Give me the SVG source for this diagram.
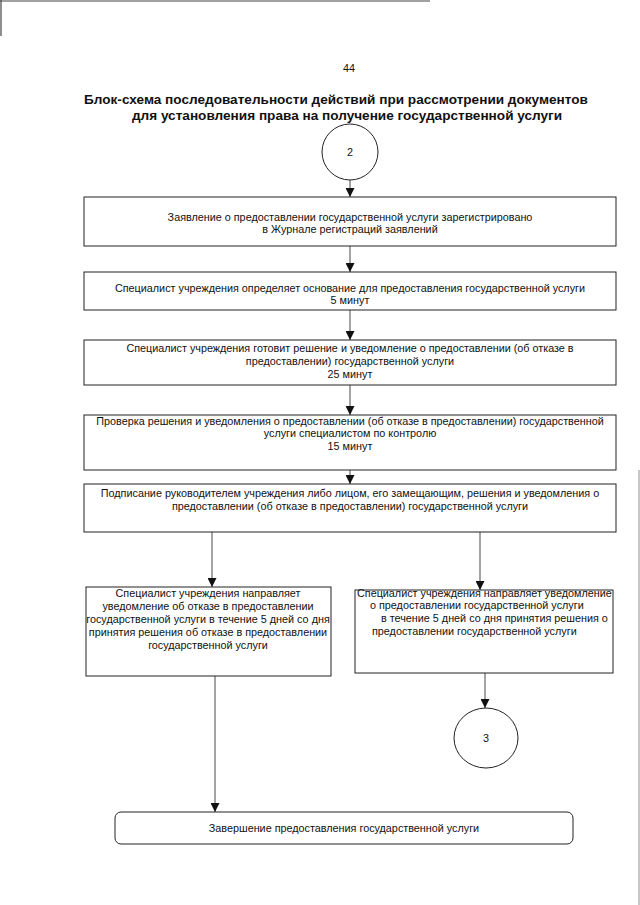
<svg xmlns="http://www.w3.org/2000/svg" width="640" height="905" viewBox="0 0 640 905">
<defs>
<style>
.t{font-family:"Liberation Sans",Arial,sans-serif;font-size:10.8px;fill:#111;text-anchor:middle}
.s{text-anchor:start}
.h{font-family:"Liberation Sans",Arial,sans-serif;font-size:13.6px;font-weight:bold;fill:#111;text-anchor:middle}
.b{fill:#fff;stroke:#222;stroke-width:1}
.c{fill:none;stroke:#333;stroke-width:0.9}
.scan{stroke:#444;stroke-width:1.2;fill:none}
</style>
<marker id="ah" viewBox="0 0 10 10" refX="10" refY="5" markerWidth="9" markerHeight="9" markerUnits="userSpaceOnUse" orient="auto">
<path d="M0,0 L10,5 L0,10 z" fill="#111"/>
</marker>
</defs>
<rect width="640" height="905" fill="#fff"/>
<line class="scan" x1="0" y1="1" x2="430" y2="1"/>
<line class="scan" x1="1" y1="0" x2="1" y2="36"/>
<line class="scan" x1="639" y1="470" x2="639" y2="905" stroke-opacity="0.5"/>

<text class="t" x="349" y="72" font-size="11">44</text>
<text class="h" x="336" y="104">Блок-схема последовательности действий при рассмотрении документов</text>
<text class="h" x="347" y="120">для установления права на получение государственной услуги</text>

<g id="connectors">
<line class="c" x1="350" y1="180" x2="350" y2="197" marker-end="url(#ah)"/>
<line class="c" x1="350" y1="246" x2="350" y2="272" marker-end="url(#ah)"/>
<line class="c" x1="350" y1="310" x2="350" y2="340" marker-end="url(#ah)"/>
<line class="c" x1="350" y1="385" x2="350" y2="415" marker-end="url(#ah)"/>
<line class="c" x1="350" y1="470" x2="350" y2="484" marker-end="url(#ah)"/>
<line class="c" x1="212" y1="532" x2="212" y2="587" marker-end="url(#ah)"/>
<line class="c" x1="480" y1="532" x2="480" y2="590" marker-end="url(#ah)"/>
<line class="c" x1="485" y1="673" x2="485" y2="708" marker-end="url(#ah)"/>
<line class="c" x1="215" y1="676" x2="215" y2="812" marker-end="url(#ah)"/>
</g>

<g id="start2">
<circle class="b" cx="350" cy="152" r="28" stroke-width="0.8"/>
<text class="t" x="350" y="156">2</text>
</g>

<g id="box1">
<rect class="b" x="84" y="197" width="532" height="49"/>
<text class="t" x="350" y="221">Заявление о предоставлении государственной услуги зарегистрировано</text>
<text class="t" x="350" y="233">в Журнале регистраций заявлений</text>
</g>

<g id="box2">
<rect class="b" x="84" y="272" width="532" height="38"/>
<text class="t" x="350" y="292">Специалист учреждения определяет основание для предоставления государственной услуги</text>
<text class="t" x="350" y="304">5 минут</text>
</g>

<g id="box3">
<rect class="b" x="84" y="340" width="532" height="45"/>
<text class="t" x="350" y="352">Специалист учреждения готовит решение и уведомление о предоставлении (об отказе в</text>
<text class="t" x="350" y="365">предоставлении) государственной услуги</text>
<text class="t" x="350" y="378">25 минут</text>
</g>

<g id="box4">
<rect class="b" x="84" y="415" width="532" height="55"/>
<text class="t" x="350" y="425">Проверка решения и уведомления о предоставлении (об отказе в предоставлении) государственной</text>
<text class="t" x="350" y="437">услуги специалистом по контролю</text>
<text class="t" x="350" y="450">15 минут</text>
</g>

<g id="box5">
<rect class="b" x="84" y="484" width="532" height="48"/>
<text class="t" x="350" y="497">Подписание руководителем учреждения либо лицом, его замещающим, решения и уведомления о</text>
<text class="t" x="350" y="510">предоставлении (об отказе в предоставлении) государственной услуги</text>
</g>

<g id="box6">
<rect class="b" x="86" y="587" width="245" height="89"/>
<text class="t" x="208" y="597">Специалист учреждения направляет</text>
<text class="t" x="208" y="610">уведомление об отказе в предоставлении</text>
<text class="t" x="208" y="623">государственной услуги в течение 5 дней со дня</text>
<text class="t" x="208" y="636">принятия решения об отказе в предоставлении</text>
<text class="t" x="208" y="649">государственной услуги</text>
</g>

<g id="box7">
<rect class="b" x="355" y="590" width="258" height="83"/>
<text class="t s" x="357" y="597">Специалист учреждения направляет уведомление</text>
<text class="t s" x="370" y="609">о предоставлении государственной услуги</text>
<text class="t s" x="381" y="622">в течение 5 дней со дня принятия решения о</text>
<text class="t s" x="372" y="635">предоставлении государственной услуги</text>
</g>

<g id="end3">
<ellipse class="b" cx="486" cy="738" rx="32" ry="30" stroke-width="0.8"/>
<text class="t" x="486" y="742">3</text>
</g>

<g id="box8">
<rect class="b" x="115" y="812" width="458" height="32" rx="6"/>
<text class="t" x="344" y="832">Завершение предоставления государственной услуги</text>
</g>
</svg>
